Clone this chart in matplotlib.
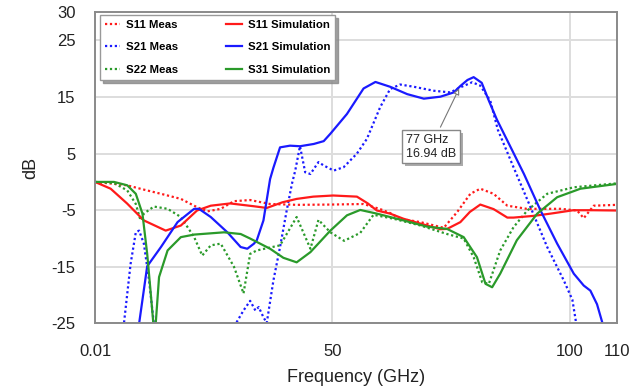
import matplotlib
matplotlib.use("Agg")
import matplotlib.pyplot as plt
import matplotlib.patheffects as pe

plt.rcParams["font.family"] = ["Liberation Sans", "DejaVu Sans"]
plt.rcParams["axes.unicode_minus"] = False

# S11 measured / simulated
s11_meas_f = [0, 3.5, 6.75, 10, 13.9, 18.1, 21.6, 23.7, 26.5, 29.3, 32.7, 36.9, 42.5, 49.6,
              56.6, 60.1, 62.2, 64.3, 68.6, 73.5, 76.3, 79.1, 81.2, 84, 86.9, 91, 98.1,
              101.6, 103, 105.1, 110]
s11_meas_db = [0, -0.3, -0.6, -1.3, -2.1, -3.0, -4.5, -5.2, -4.75, -3.4, -3.2, -3.9, -4.05, -4.0,
               -3.9, -4.8, -5.5, -6.5, -7.1, -8.1, -5.35, -2.1, -1.2, -2.1, -4.2, -4.75, -4.75,
               -5.05, -6.4, -4.2, -4.05]
s11_sim_f = [0, 3.3, 6.75, 10.3, 14.9, 18.1, 21.5, 24.4, 28.5, 33.5, 36.2, 39.5, 42.5, 46, 50.2,
             55.2, 57.5, 59.4, 62.2, 65, 70, 72.8, 74.2, 77, 79, 81.2, 84, 86.9, 88.2, 92.4, 96,
             100.8, 105, 110]
s11_sim_db = [0, -1.2, -3.8, -6.8, -8.6, -7.7, -5.05, -4.2, -3.8, -4.3, -4.6, -3.6, -3.0, -2.6, -2.4,
              -2.6, -3.8, -5.05, -5.6, -6.5, -7.7, -8.35, -8.3, -7.1, -5.3, -4.0, -4.8, -6.3, -6.3,
              -6.0, -5.6, -5.0, -5.0, -5.05]

# S21 measured / simulated
s21_meas_f = [5.8, 6.1, 7.5, 8.6, 9.3, 10.3, 11.4, 12.4, 12.8, 20, 29.5, 29.9, 31.3, 32.7, 33.8,
              34.5, 35.5, 36.2, 37.6, 39, 40.4, 41.5, 42.2, 43.2, 44.3, 45.4, 47.1, 48.2, 50.3,
              52.4, 53.8, 55.2, 57.3, 60.1, 62.2, 64.3, 67.2, 71.4, 74.9, 77, 79.5, 81.2, 83.3,
              84.9, 88.2, 91.8, 95.3, 98.8, 100.6, 101.3, 101.6]
s21_meas_db = [-30, -25, -14.5, -8.9, -8.6, -10.9, -17.4, -25, -30, -40, -30, -24.7, -22.7, -21,
               -22.7, -22.1, -23.9, -24.9, -17.4, -11.5, -5.05, -0.35, 2.0, 6.3, 1.7, 1.4, 3.5,
               2.9, 2.0, 2.6, 3.8, 5.0, 7.6, 13.2, 16.4, 17.2, 16.8, 16.1, 15.8, 16.7, 17.6,
               17.0, 14.35, 9.2, 2.6, -4.5, -11.5, -17.4, -20.8, -24.4, -28]
s21_sim_f = [9.0, 9.3, 11, 13.9, 17.4, 20.9, 21.9, 24.4, 27.9, 30.7, 32.1, 33.5, 34.1, 35.5, 36.9,
             37.6, 39, 41.1, 43.2, 46.1, 48.2, 49.6, 53.1, 56.6, 59.1, 62.2, 65.8, 69.3, 72.8,
             75.6, 77, 78.5, 79.8, 81.5, 83, 84.7, 86.9, 90.4, 93.9, 97.4, 100.9, 103, 104.4,
             105.8, 106.9, 107.5]
s21_sim_db = [-30, -25, -14.9, -11.5, -7.1, -4.75, -4.75, -6.2, -8.9, -11.5, -11.8, -10.9, -10.3,
              -6.8, 0.5, 2.5, 6.1, 6.4, 6.3, 6.7, 7.2, 8.5, 12.0, 16.5, 17.65, 16.8, 15.5, 14.7,
              15.05, 15.8, 16.94, 18.0, 18.5, 17.5, 14.35, 11.0, 7.3, 1.4, -5.05, -10.9, -16.2,
              -18.3, -19.2, -21.6, -24.8, -28]

# S22 measured / S31 simulated
s22_meas_f = [0, 4, 6.8, 8.6, 9.6, 10.3, 12.4, 15.3, 18.1, 20.9, 22.6, 24.4, 26.5, 29.3, 31.3,
              32.7, 34.1, 39, 42.5, 45.4, 47.1, 49.6, 52.5, 55.9, 58.7, 62.9, 68.6, 74.2, 77.7,
              79.8, 81.6, 83, 85.4, 88.2, 91.1, 95.3, 100.9, 110]
s22_meas_db = [0, -0.2, -1.5, -3.9, -6.8, -5.6, -4.35, -4.75, -6.2, -9.75, -13, -11.2, -10.9, -15,
               -19.7, -12.7, -12.1, -11.2, -6.2, -11.8, -6.7, -8.9, -10.4, -9.0, -5.8, -6.5, -7.7,
               -9.2, -10.0, -13.3, -17.7, -18, -12.1, -8.0, -5.05, -2.1, -0.95, -0.25]
s31_sim_f = [0, 4, 6.8, 8.6, 10, 11, 11.7, 12.3, 12.55, 12.8, 13.5, 15.3, 18.1, 20.9, 27.2, 30.7,
             32.7, 36.9, 39.7, 42.5, 45.4, 49.6, 53.1, 55.9, 59.4, 62.2, 65, 70, 74.2, 77.7,
             80.5, 82.3, 83.7, 85.4, 88.9, 93.2, 97.4, 102.3, 110]
s31_sim_db = [0, 0, -0.6, -2.1, -5.6, -12.7, -19.2, -25, -32, -25, -16.8, -12.1, -9.75, -9.3, -8.9,
              -9.2, -10.0, -11.8, -13.4, -14.2, -12.4, -8.6, -5.9, -4.95, -5.6, -6.2, -6.8, -7.9,
              -8.3, -9.75, -13.3, -18, -18.6, -16.2, -10.3, -5.6, -2.7, -1.2, -0.35]

x_ticks = [0.01, 50, 100, 110]
x_tick_labels = ["0.01", "50", "100", "110"]
y_ticks = [-25, -15, -5, 5, 15, 25, 30]

RED, BLUE, GREEN = "#ff1a1a", "#1a1aff", "#2a9a2a"
DOT = (0, (1, 1.2))

fig = plt.figure(figsize=(6.44, 3.89), dpi=100)
ax = fig.add_axes([0.1475, 0.1684, 0.8105, 0.8007])

ax.plot(s11_meas_f, s11_meas_db, color=RED, ls=DOT, lw=1.6, label="S11 Meas")
ax.plot(s21_meas_f, s21_meas_db, color=BLUE, ls=DOT, lw=1.6, label="S21 Meas")
ax.plot(s22_meas_f, s22_meas_db, color=GREEN, ls=DOT, lw=1.6, label="S22 Meas")
ax.plot(s11_sim_f, s11_sim_db, color=RED, lw=1.6, label="S11 Simulation")
ax.plot(s21_sim_f, s21_sim_db, color=BLUE, lw=1.6, label="S21 Simulation")
ax.plot(s31_sim_f, s31_sim_db, color=GREEN, lw=1.6, label="S31 Simulation")

ax.set_xlim(0, 110)
ax.set_ylim(-25, 30)
ax.set_xticks(x_ticks)
ax.set_xticklabels(x_tick_labels)
ax.set_yticks(y_ticks)
ax.tick_params(length=0, labelsize=12, colors="#222222")
ax.tick_params(axis="y", pad=14)
ax.tick_params(axis="x", pad=15)
ax.grid(True, color="#dddddd", lw=1.4)
ax.set_axisbelow(True)
for sp in ax.spines.values():
    sp.set_color("#8a8a8a")
    sp.set_linewidth(1.4)

ax.set_xlabel("Frequency (GHz)", fontsize=13, color="#222222", labelpad=7)
ax.set_ylabel("dB", fontsize=13, color="#222222", labelpad=9)

leg = ax.legend(loc="upper left", ncol=2, prop={"weight": "bold", "size": 8.2},
                frameon=True, fancybox=False, shadow={"color": "#888888", "alpha": 0.8},
                handlelength=1.35, handletextpad=0.55, columnspacing=4.2, labelspacing=1.12,
                borderpad=0.4, borderaxespad=0, bbox_to_anchor=(0.0096, 0.99))
leg.get_frame().set_edgecolor("#999999")
leg.get_frame().set_linewidth(1.0)

ann = ax.annotate("77 GHz\n16.94 dB", xy=(77, 16.94), xytext=(65.5, 6.2),
                  fontsize=9, ha="left", va="center", color="#222222",
                  bbox=dict(boxstyle="square,pad=0.3", fc="white", ec="#888888", lw=1.0),
                  arrowprops=dict(arrowstyle="-|>", color="#777777", lw=0.8,
                                  mutation_scale=9, fc="white"))
ann.get_bbox_patch().set_path_effects([pe.withSimplePatchShadow(offset=(2, -2),
                                                                 shadow_rgbFace="#888888",
                                                                 alpha=0.7)])

fig.savefig("out.png", dpi=100)
